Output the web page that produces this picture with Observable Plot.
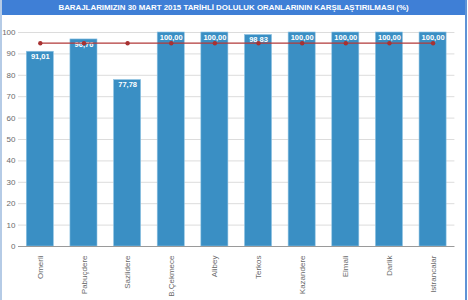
<!DOCTYPE html>
<html><head><meta charset="utf-8">
<script src="https://cdn.jsdelivr.net/npm/d3@7"></script>
<script src="https://cdn.jsdelivr.net/npm/@observablehq/plot@0.6"></script>
<style>
body{margin:0;background:#fff;font-family:"Liberation Sans",Arial,sans-serif;}
#wrap{position:absolute;left:0;top:0;width:463px;height:300px;border-left:2px solid #b5cbe6;border-right:2px solid #5f93d6;overflow:hidden;}
#title{height:15px;line-height:15px;background:#3f7fd6;color:#fff;font-weight:bold;font-size:7.9px;text-align:center;}
</style></head>
<body><div id="wrap"><div id="title">BARAJLARIMIZIN 30 MART 2015 TARİHLİ DOLULUK ORANLARININ KARŞILAŞTIRILMASI (%)</div><div id="chart"></div></div>
<script>
const dams = ["Omerli","Pabuçdere","Sazlidere","B.Çekmece","Alibey","Terkos","Kazandere","Elmali","Darlik","Istrancalar"];
const rates = [91.01, 96.76, 77.78, 100, 100, 98.83, 100, 100, 100, 100];
const targets = [95, 95, 95, 95, 95, 95, 95, 95, 95, 95];
const yTicks = [0,10,20,30,40,50,60,70,80,90,100];

const data = dams.map((d,i)=>({dam:d, rate:rates[i], target:targets[i]}));
const fmt = v => d3.format(".2f")(v).replace(".", ",");

const plot = Plot.plot({
  width: 463, height: 285,
  marginTop: 17, marginBottom: 54, marginLeft: 16, marginRight: 10.6,
  style: {fontFamily: "Liberation Sans, Arial, sans-serif", fontSize: "8px", color: "#6a6a6a", background: "#fff"},
  x: {domain: dams, paddingInner: 0.38, paddingOuter: 0.19, round: false, label: null, tickRotate: -90, tickSize: 0, tickPadding: 9},
  y: {domain: [0,100], ticks: yTicks, label: null, tickSize: 0, tickPadding: 3},
  marks: [
    Plot.gridY(yTicks, {stroke: "#dcdcdc", strokeOpacity: 1}),
    Plot.barY(data, {x: "dam", y: "rate", fill: "#3a8fc4", stroke: "#8fc3e3", strokeWidth: 0.6}),
    Plot.ruleY([0], {stroke: "#9a9a9a"}),
    Plot.text(data, {x: "dam", y: "rate", text: d => fmt(d.rate), fill: "#fff", fontWeight: "bold", fontSize: 7.5, dy: 5}),
    Plot.line(data, {x: "dam", y: "target", stroke: "#b23a3a", strokeWidth: 1.2}),
    Plot.dot(data, {x: "dam", y: "target", fill: "#a83232", r: 2.2})
  ]
});
document.getElementById("chart").appendChild(plot);
</script></body></html>
